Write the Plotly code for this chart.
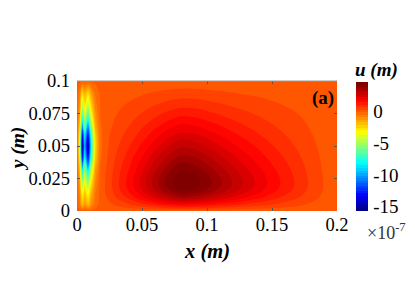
import plotly.graph_objects as go

# Grid coordinates (m)
x_vals = [0, 0.002, 0.004, 0.006, 0.0085, 0.011, 0.014, 0.018, 0.025, 0.03, 0.04, 0.05,
          0.06, 0.07, 0.08, 0.09, 0.1, 0.11, 0.12, 0.13, 0.14, 0.15, 0.16, 0.17, 0.18, 0.19, 0.2]
y_vals = [0, 0.005, 0.01, 0.015, 0.02, 0.025, 0.03, 0.04, 0.05, 0.06, 0.07, 0.08, 0.09, 0.1]

# Displacement u (x 1e-7 m), rows follow y_vals, columns follow x_vals
u_y000 = [0]*27
u_y005 = [0, -0.41, -1.88, -1.13, -1.88, -0.94, -0.30, 0.02, 0.22, 0.38, 0.66, 0.98, 1.32, 1.64, 1.86, 1.80, 1.64, 1.43, 1.22, 1.04, 0.86, 0.70, 0.54, 0.40, 0.24, 0.11, 0]
u_y010 = [0, -0.59, -2.67, -1.60, -2.67, -1.33, -0.43, 0.05, 0.40, 0.68, 1.19, 1.76, 2.37, 2.94, 3.35, 3.25, 2.94, 2.57, 2.20, 1.86, 1.56, 1.25, 0.98, 0.71, 0.44, 0.20, 0]
u_y015 = [0, -0.79, -3.61, -2.17, -3.61, -1.81, -0.58, 0.06, 0.52, 0.86, 1.52, 2.24, 3.03, 3.76, 4.28, 4.15, 3.76, 3.28, 2.82, 2.38, 1.99, 1.60, 1.25, 0.91, 0.56, 0.26, 0]
u_y020 = [0, -1.07, -4.87, -2.92, -4.87, -2.43, -0.78, 0.04, 0.56, 0.94, 1.65, 2.44, 3.29, 4.09, 4.65, 4.51, 4.09, 3.57, 3.06, 2.59, 2.16, 1.74, 1.36, 0.99, 0.61, 0.28, 0]
u_y025 = [0, -1.38, -6.28, -3.77, -6.28, -3.14, -1.00, 0.02, 0.55, 0.93, 1.63, 2.42, 3.26, 4.05, 4.60, 4.46, 4.05, 3.53, 3.03, 2.56, 2.14, 1.72, 1.35, 0.98, 0.60, 0.28, 0]
u_y030 = [0, -1.76, -8.01, -4.80, -8.01, -4.00, -1.28, -0.03, 0.53, 0.88, 1.55, 2.29, 3.09, 3.84, 4.37, 4.24, 3.84, 3.36, 2.88, 2.43, 2.03, 1.64, 1.28, 0.93, 0.57, 0.26, 0]
u_y040 = [0, -2.86, -13.03, -7.82, -13.03, -6.52, -2.08, -0.15, 0.45, 0.75, 1.32, 1.95, 2.63, 3.27, 3.72, 3.61, 3.27, 2.86, 2.45, 2.07, 1.73, 1.39, 1.09, 0.79, 0.49, 0.22, 0]
u_y050 = [0, -3.45, -15.7, -9.42, -15.7, -7.85, -2.51, -0.22, 0.36, 0.61, 1.07, 1.59, 2.14, 2.66, 3.02, 2.93, 2.66, 2.32, 1.99, 1.68, 1.40, 1.13, 0.88, 0.64, 0.40, 0.18, 0]
u_y060 = [0, -2.86, -13.03, -7.82, -13.03, -6.52, -2.08, -0.19, 0.28, 0.47, 0.83, 1.22, 1.65, 2.05, 2.33, 2.26, 2.05, 1.79, 1.53, 1.30, 1.08, 0.87, 0.68, 0.50, 0.31, 0.14, 0]
u_y070 = [0, -1.76, -8.01, -4.80, -8.01, -4.00, -1.28, -0.11, 0.20, 0.34, 0.59, 0.88, 1.18, 1.47, 1.67, 1.62, 1.47, 1.29, 1.10, 0.93, 0.78, 0.63, 0.49, 0.36, 0.22, 0.10, 0]
u_y080 = [0, -1.07, -4.87, -2.92, -4.87, -2.43, -0.78, -0.07, 0.13, 0.22, 0.38, 0.56, 0.76, 0.94, 1.07, 1.04, 0.94, 0.82, 0.70, 0.60, 0.50, 0.40, 0.31, 0.23, 0.14, 0.06, 0]
u_y090 = [0, -0.59, -2.67, -1.60, -2.67, -1.33, -0.43, -0.03, 0.06, 0.10, 0.18, 0.27, 0.36, 0.45, 0.51, 0.50, 0.45, 0.39, 0.34, 0.28, 0.24, 0.19, 0.15, 0.11, 0.07, 0.03, 0]
u_y100 = [0]*27

x_ticks = [0, 0.05, 0.1, 0.15, 0.2]
x_ticktext = ["0", "0.05", "0.1", "0.15", "0.2"]
y_ticks = [0, 0.025, 0.05, 0.075, 0.1]
y_ticktext = ["0", "0.025", "0.05", "0.075", "0.1"]
cb_ticks = [0, -5, -10, -15]
cb_ticktext = ["0", "-5", "-10", "-15"]
u_min, u_max = -15.7, 4.7

z = [u_y000, u_y005, u_y010, u_y015, u_y020, u_y025, u_y030, u_y040,
     u_y050, u_y060, u_y070, u_y080, u_y090, u_y100]

jet = [[0.0, "rgb(0,0,128)"], [0.125, "rgb(0,0,255)"], [0.375, "rgb(0,255,255)"],
       [0.625, "rgb(255,255,0)"], [0.875, "rgb(255,0,0)"], [1.0, "rgb(128,0,0)"]]

FONT = "Liberation Serif"

fig = go.Figure(go.Contour(
    x=x_vals, y=y_vals, z=z,
    colorscale=jet, zmin=u_min, zmax=u_max,
    contours=dict(start=u_min, end=u_max, size=0.4, coloring="fill", showlines=False),
    line=dict(width=0),
    colorbar=dict(
        x=1.073, xanchor="left", xref="paper",
        y=0.496, yanchor="middle",
        thickness=12, thicknessmode="pixels",
        len=129, lenmode="pixels",
        xpad=0, ypad=0,
        tickvals=cb_ticks, ticktext=cb_ticktext,
        ticks="outside", ticklen=2, tickcolor="rgba(0,0,0,0)",
        tickfont=dict(family=FONT, size=19, color="black"),
        outlinewidth=0,
    ),
))

# page body has an 8px margin, so the figure is sized to the visible area
fig.update_layout(
    width=407, height=294,
    margin=dict(l=69, r=78, t=73, b=91, autoexpand=False),
    paper_bgcolor="white", plot_bgcolor="white",
    font=dict(family=FONT, color="black"),
    xaxis=dict(range=[0, 0.2], tickvals=x_ticks, ticktext=x_ticktext,
               ticks="inside", ticklen=3, tickcolor="#555", mirror="ticks",
               showline=False, showgrid=False, zeroline=False,
               ticklabelstandoff=0,
               tickfont=dict(family=FONT, size=18.5)),
    yaxis=dict(range=[0, 0.1], tickvals=y_ticks, ticktext=y_ticktext,
               ticks="inside", ticklen=3, tickcolor="#555", mirror="ticks",
               showline=False, showgrid=False, zeroline=False,
               ticklabelstandoff=6,
               tickfont=dict(family=FONT, size=18.5)),
    shapes=[dict(type="line", xref="paper", yref="paper", x0=0, x1=1, y0=1, y1=1,
                 line=dict(color="#999", width=1))],
    annotations=[
        dict(text="x (m)", xref="paper", yref="paper", x=0.5, y=-0.315,
             showarrow=False, xanchor="center", yanchor="middle",
             font=dict(family=FONT, size=20.5, weight="bold", style="italic")),
        dict(text="y (m)", xref="paper", yref="paper", x=-0.228, y=0.48,
             showarrow=False, xanchor="center", yanchor="middle", textangle=-90,
             font=dict(family=FONT, size=19.5, weight="bold", style="italic")),
        dict(text="(a)", xref="paper", yref="paper", x=0.945, y=0.869,
             showarrow=False, xanchor="center", yanchor="middle",
             font=dict(family=FONT, size=19, weight="bold")),
        dict(text="u (m)", xref="paper", yref="paper", x=1.153, y=1.085,
             showarrow=False, xanchor="center", yanchor="middle",
             font=dict(family=FONT, size=19, weight="bold", style="italic")),
        dict(text="×10<sup>-7</sup>", xref="paper", yref="paper", x=1.19, y=-0.154,
             showarrow=False, xanchor="center", yanchor="middle",
             font=dict(family=FONT, size=18, color="#333")),
    ],
)

fig.write_html("out.html")
